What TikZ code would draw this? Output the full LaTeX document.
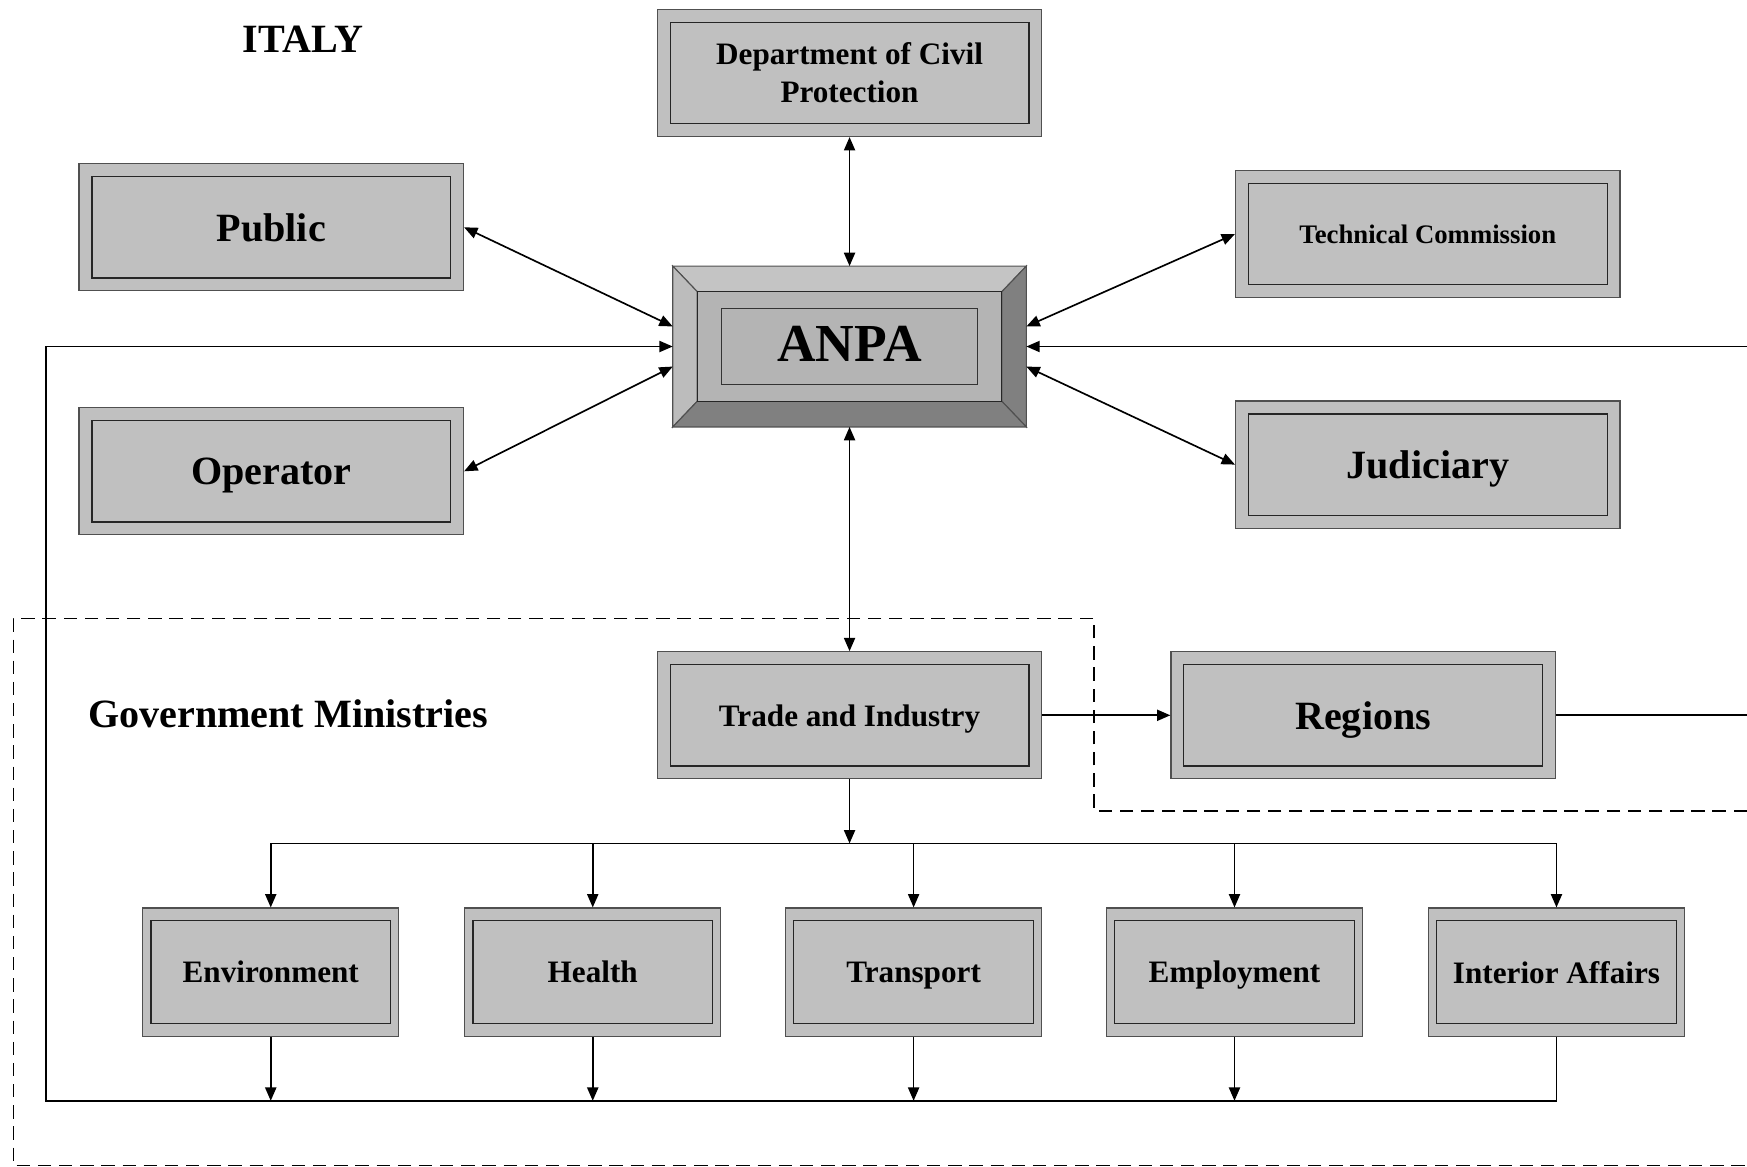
\documentclass[tikz,border=0pt]{standalone}
\usepackage{fontspec}
\setmainfont{Liberation Serif}
\usetikzlibrary{arrows.meta}

\definecolor{boxgray}{HTML}{C0C0C0}
\definecolor{framegray}{HTML}{505050}
\definecolor{facegray}{HTML}{B4B4B4}
\definecolor{lightbevel}{HTML}{C4C4C4}
\definecolor{sidebevel}{HTML}{BCBCBC}
\definecolor{darkbevel}{HTML}{808080}

\tikzset{
  x=1pt, y=-1pt,
  line/.style={line width=1.5pt, black},
  arr/.style={line, -{Triangle[length=12pt,width=10pt]}},
  dbl/.style={line, {Triangle[length=12pt,width=10pt]}-{Triangle[length=12pt,width=10pt]}},
  innerframe/.style 2 args={path picture={
      \draw[line width=1.1pt, black!85]
        ([xshift=#1,yshift=-#2]path picture bounding box.north west) rectangle
        ([xshift=-#1,yshift=#2]path picture bounding box.south east);}},
  unit/.style={rectangle, draw=framegray, line width=1.1pt, fill=boxgray,
    inner sep=0pt, align=center, font=\bfseries},
  % centre the capitals of a one-line label on the box
  evenline/.style={execute at begin node={\vphantom{H}}, text depth=0pt},
  bigbox/.style={unit, minimum width=345pt, minimum height=114pt,
    innerframe={11.5pt}{11.5pt}},
  ministry/.style={unit, evenline, minimum width=230pt, minimum height=115pt,
    innerframe={7.5pt}{11.5pt}, font=\bfseries\fontsize{28}{32}\selectfont},
  zone/.style={line width=1.4pt, black, dash pattern=on 12pt off 7pt},
  heading/.style={font=\bfseries\fontsize{36}{40}\selectfont, inner sep=0pt},
}

\begin{document}
\begin{tikzpicture}
\useasboundingbox (0,0) rectangle (1568,1047);

% Government ministries zone
\draw[zone] (1568,728) -- (982,728) -- (982,555) -- (12,555) -- (12,1046) -- (1568,1046);

% Title and group label
\node[heading] (italy) at (272,35) {ITALY};
\node[heading, anchor=west] (govlabel) at (79,641) {Government Ministries};

% Central agency with bevelled frame
\node[minimum width=317pt, minimum height=144pt, inner sep=0pt] (anpa) at (762.5,311) {};
\coordinate (o1) at (anpa.north west);
\coordinate (o2) at (anpa.north east);
\coordinate (o3) at (anpa.south east);
\coordinate (o4) at (anpa.south west);
\coordinate (i1) at ([shift={(22,23)}]anpa.north west);
\coordinate (i2) at ([shift={(-22,23)}]anpa.north east);
\coordinate (i3) at ([shift={(-22,-23)}]anpa.south east);
\coordinate (i4) at ([shift={(22,-23)}]anpa.south west);
\begin{scope}[draw=framegray, line width=1pt, line join=miter]
  \filldraw[fill=lightbevel] (o1) -- (o2) -- (i2) -- (i1) -- cycle;
  \filldraw[fill=sidebevel] (o1) -- (i1) -- (i4) -- (o4) -- cycle;
  \filldraw[fill=darkbevel] (o2) -- (o3) -- (i3) -- (i2) -- cycle;
  \filldraw[fill=darkbevel] (o4) -- (i4) -- (i3) -- (o3) -- cycle;
  \filldraw[fill=facegray, draw=black!85] (i1) rectangle (i3);
  \draw[draw=black!80] ([shift={(44,38)}]anpa.north west) rectangle ([shift={(-44,-38)}]anpa.south east);
\end{scope}
\node[font=\bfseries\fontsize{48}{52}\selectfont, inner sep=0pt] (anpatext) at (762.5,309) {ANPA};

% Surrounding bodies
\node[bigbox, font=\bfseries\fontsize{28}{34}\selectfont] (dept) at (762.5,65.5) {Department of Civil\\Protection};
\node[bigbox, evenline, font=\bfseries\fontsize{36}{40}\selectfont] (public) at (243.5,204) {Public};
\node[bigbox, evenline, font=\bfseries\fontsize{36}{40}\selectfont] (operator) at (243.5,423) {Operator};
\node[bigbox, evenline, font=\bfseries\fontsize{24}{28}\selectfont] (tech) at (1281.5,210) {Technical Commission};
\node[bigbox, evenline, font=\bfseries\fontsize{36}{40}\selectfont] (jud) at (1281.5,417) {Judiciary};
\node[bigbox, evenline, font=\bfseries\fontsize{28}{32}\selectfont] (trade) at (762.5,642) {Trade and Industry};
\node[bigbox, evenline, font=\bfseries\fontsize{36}{40}\selectfont] (regions) at (1223.5,642) {Regions};

% Ministries
\node[ministry] (env) at (243,872.5) {Environment};
\node[ministry] (health) at (532,872.5) {Health};
\node[ministry] (transport) at (820,872.5) {Transport};
\node[ministry] (employ) at (1108,872.5) {Employment};
\node[ministry] (interior) at (1397,872.5) {Interior Affairs};

% Links with the central agency
\draw[dbl] (dept.south) -- (anpa.north);
\draw[dbl] (public.east) -- ([yshift=18pt]anpa.west);
\draw[dbl] (operator.east) -- ([yshift=-18pt]anpa.west);
\draw[dbl] (tech.west) -- ([yshift=18pt]anpa.east);
\draw[dbl] (jud.west) -- ([yshift=-18pt]anpa.east);
\draw[dbl] (anpa.south) -- (trade.north);

% Trade and Industry to Regions, Regions onwards
\coordinate (rin) at (1568,311);
\coordinate (rout) at (1568,642);
\draw[arr] (trade.east) -- (regions.west);
\draw[line] (regions.east) -- (rout);
\draw[arr] (rin) -- (anpa.east);

% Distribution to the ministries
\coordinate (split) at (762.5,757);
\draw[arr] (trade.south) -- (split);
\draw[line] (env.north |- split) -- (interior.north |- split);
\foreach \m in {env,health,transport,employ,interior}
  \draw[arr] (\m.north |- split) -- (\m.north);

% Feedback from the ministries to the central agency
\coordinate (fb) at (41,988);
\coordinate (fbtop) at (41,311);
\foreach \m in {env,health,transport,employ}
  \draw[arr] (\m.south) -- (\m.south |- fb);
\draw[arr] (interior.south) |- (fb) -- (fbtop) -- (anpa.west);
\end{tikzpicture}
\end{document}
